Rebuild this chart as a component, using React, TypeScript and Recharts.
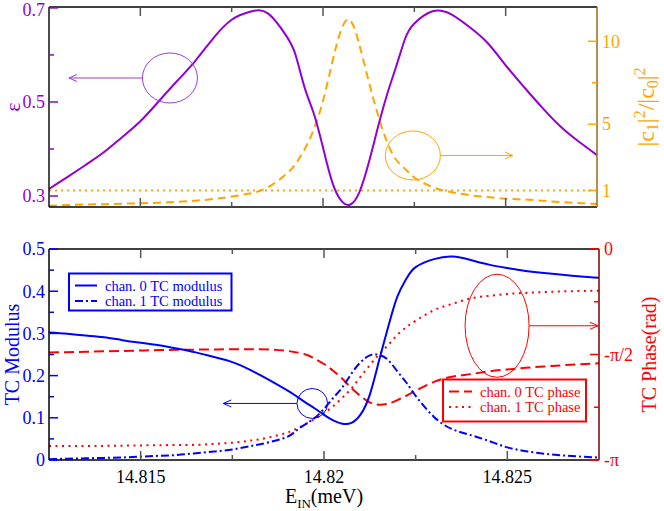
import React from 'react';
import { LineChart, Line, XAxis, YAxis, ReferenceLine, ReferenceDot, Label } from 'recharts';

// incident energy (meV), shared by both panels
const energy = [
  14.8125, 14.813, 14.8135, 14.814, 14.8145, 14.815, 14.8155, 14.816, 14.8165, 14.817,
  14.8175, 14.818, 14.8185, 14.819, 14.81925, 14.8195, 14.81975, 14.82, 14.82025, 14.8205,
  14.82075, 14.821, 14.82125, 14.8215, 14.82175, 14.822, 14.82225, 14.8225, 14.823, 14.8235,
  14.824, 14.8245, 14.825, 14.8255, 14.826, 14.8265, 14.827, 14.8275,
];

// top panel
const epsilon = [
  0.315, 0.34, 0.366, 0.393, 0.425, 0.459, 0.501, 0.544, 0.587, 0.636,
  0.675, 0.692, 0.688, 0.64, 0.6, 0.53, 0.475, 0.403, 0.33, 0.29,
  0.282, 0.309, 0.37, 0.445, 0.515, 0.575, 0.635, 0.667, 0.693, 0.687,
  0.66, 0.626, 0.578, 0.532, 0.488, 0.448, 0.416, 0.387,
];
const ratio = [
  0.08, 0.12, 0.15, 0.17, 0.2, 0.22, 0.26, 0.31, 0.38, 0.48,
  0.63, 0.82, 1.2, 2.0, 2.6, 3.5, 4.7, 6.4, 8.7, 10.7,
  11.25, 9.75, 7.6, 5.6, 3.95, 2.85, 2.3, 1.78, 1.2, 0.9,
  0.72, 0.6, 0.5, 0.45, 0.38, 0.3, 0.24, 0.18,
];
const unitRatio = 1;

// bottom panel
const ch0Modulus = [
  0.302, 0.299, 0.295, 0.291, 0.284, 0.278, 0.272, 0.264, 0.255, 0.244,
  0.232, 0.213, 0.19, 0.165, 0.151, 0.136, 0.122, 0.107, 0.094, 0.086,
  0.088, 0.108, 0.155, 0.235, 0.315, 0.387, 0.43, 0.457, 0.476, 0.482,
  0.474, 0.463, 0.455, 0.448, 0.443, 0.439, 0.435, 0.432,
];
const ch1Modulus = [
  0.002, 0.003, 0.004, 0.005, 0.006, 0.008, 0.01, 0.012, 0.016, 0.02,
  0.025, 0.033, 0.042, 0.055, 0.07, 0.085, 0.1, 0.121, 0.147, 0.172,
  0.205, 0.232, 0.248, 0.249, 0.237, 0.21, 0.183, 0.152, 0.102, 0.073,
  0.059, 0.045, 0.03, 0.021, 0.015, 0.011, 0.008, 0.006,
];
// phases in rad
const ch0Phase = [
  -1.5425, -1.5362, -1.53, -1.5237, -1.5174, -1.5111, -1.5048, -1.5017, -1.4985, -1.4954,
  -1.4923, -1.4923, -1.4954, -1.5174, -1.5394, -1.5708, -1.6336, -1.7122, -1.8127, -1.9321,
  -2.0735, -2.1897, -2.2839, -2.3185, -2.3028, -2.2494, -2.1834, -2.1111, -1.9792, -1.9007,
  -1.863, -1.8221, -1.7938, -1.7687, -1.7499, -1.731, -1.7153, -1.7027,
];
const ch1Phase = [
  -2.9343, -2.9343, -2.9343, -2.9311, -2.928, -2.9248, -2.9217, -2.9185, -2.9154, -2.9028,
  -2.884, -2.8526, -2.8054, -2.7332, -2.6766, -2.6075, -2.529, -2.4442, -2.3405, -2.2148,
  -2.0735, -1.9007, -1.7279, -1.5708, -1.4294, -1.2786, -1.1624, -1.0681, -0.9111, -0.8168,
  -0.7351, -0.6974, -0.6692, -0.6535, -0.6409, -0.6315, -0.6252, -0.622,
];

const xTicks = [14.815, 14.8175, 14.82, 14.8225, 14.825];
const xMajor = [14.815, 14.82, 14.825];
const epsTicks = [0.3, 0.4, 0.5, 0.6, 0.7];
const epsMajor = [0.3, 0.5, 0.7];
const ratioTicks = [1, 5, 7.5, 10];
const ratioMajor = [1, 5, 10];
const modTicks = [0, 0.05, 0.1, 0.15, 0.2, 0.25, 0.3, 0.35, 0.4, 0.45, 0.5];
const modMajor = [0, 0.1, 0.2, 0.3, 0.4, 0.5];
const phaseTicks = [-Math.PI, -0.75 * Math.PI, -Math.PI / 2, -0.25 * Math.PI, 0];
const phaseTickLabels = ['-π', '', '-π/2', '', '0'];

const legendModulus = ['chan. 0 TC modulus', 'chan. 1 TC modulus'];
const legendPhase = ['chan. 0 TC phase', 'chan. 1 TC phase'];

const topData = energy.map((x, i) => ({ x, eps: epsilon[i], ratio: ratio[i] }));
const bottomData = energy.map((x, i) => ({
  x,
  m0: ch0Modulus[i],
  m1: ch1Modulus[i],
  p0: ch0Phase[i],
  p1: ch1Phase[i],
}));

const FONT = '"Liberation Serif", "Times New Roman", serif';
const PURPLE = '#9400D3';
const ORANGE = '#FFA500';
const BLUE = '#0000FF';
const RED = '#FF0000';

const makeXTick = (plotH: number, withLabels: boolean) => (props: any) => {
  const { x, y, payload } = props;
  const major = xMajor.includes(payload.value);
  const len = major ? 9 : 5;
  return (
    <g>
      <line x1={x} x2={x} y1={y} y2={y - len} stroke="#555" strokeWidth={1.5} />
      <line x1={x} x2={x} y1={y - plotH} y2={y - plotH + len} stroke="#555" strokeWidth={1.5} />
      {withLabels && major && (
        <text x={x} y={y + 23} textAnchor="middle" fontSize={18} style={{ fontFamily: FONT }} fill="#000">
          {String(payload.value)}
        </text>
      )}
    </g>
  );
};

const makeYTick =
  (side: 'left' | 'right', color: string, label: (v: number, i: number) => string) => (props: any) => {
    const { x, y, payload, index } = props;
    const text = label(payload.value, index);
    const len = text ? 9 : 5;
    const dir = side === 'left' ? 1 : -1;
    return (
      <g>
        <line x1={x} x2={x + dir * len} y1={y} y2={y} stroke={color} strokeWidth={1.5} />
        {text && (
          <text
            x={side === 'left' ? x - 4 : x + 5}
            y={Math.max(y, 9.5)}
            dy="0.35em"
            textAnchor={side === 'left' ? 'end' : 'start'}
            fontSize={18}
            style={{ fontFamily: FONT }}
            fill={color}
          >
            {text}
          </text>
        )}
      </g>
    );
  };

const arrowHead = (x: number, y: number, dir: number, color: string) => (
  <polyline
    points={`${x - dir * 8},${y - 3.5} ${x},${y} ${x - dir * 8},${y + 3.5}`}
    fill="none"
    stroke={color}
    strokeWidth={1}
  />
);

const makeCallout = (rx: number, ry: number, arrowTo: number, color: string) => (props: any) => {
  const { cx, cy } = props;
  const dir = arrowTo < 0 ? -1 : 1;
  const start = cx + dir * rx;
  const end = cx + arrowTo;
  return (
    <g>
      <ellipse cx={cx} cy={cy} rx={rx} ry={ry} fill="none" stroke={color} strokeWidth={1} />
      <line x1={start} x2={end} y1={cy} y2={cy} stroke={color} strokeWidth={1} />
      {arrowHead(end, cy, dir, color)}
    </g>
  );
};

const rotatedTitle = (offsetX: number, color: string, children: React.ReactNode, size = 20) => (props: any) => {
  const vb = props.viewBox;
  const cx = vb.x + offsetX;
  const cy = vb.y + vb.height / 2;
  return (
    <text
      x={cx}
      y={cy}
      dy="0.35em"
      textAnchor="middle"
      transform={`rotate(-90 ${cx} ${cy})`}
      fontSize={size}
      style={{ fontFamily: FONT }}
      fill={color}
    >
      {children}
    </text>
  );
};

const ratioTitle = (
  <>
    <tspan>|c</tspan>
    <tspan dy={4} fontSize={16}>1</tspan>
    <tspan dy={-4}>|</tspan>
    <tspan dy={-9} fontSize={16}>2</tspan>
    <tspan dy={9}>/|c</tspan>
    <tspan dy={4} fontSize={16}>0</tspan>
    <tspan dy={-4}>|</tspan>
    <tspan dy={-9} fontSize={16}>2</tspan>
  </>
);

const energyTitle = (props: any) => {
  const vb = props.viewBox;
  return (
    <text x={vb.x + vb.width / 2} y={vb.y + 43} textAnchor="middle" fontSize={20} style={{ fontFamily: FONT }} fill="#000">
      <tspan>E</tspan>
      <tspan dy={5} fontSize={13}>IN</tspan>
      <tspan dy={-5}>(meV)</tspan>
    </text>
  );
};

const LegendBox = ({
  x, y, w, h, color, names, dashes, sampleW,
}: {
  x: number; y: number; w: number; h: number; color: string; names: string[]; dashes: (string | undefined)[]; sampleW: number;
}) => (
  <g>
    <rect x={x} y={y} width={w} height={h} fill="#fff" stroke={color} strokeWidth={2} />
    {names.map((n, i) => {
      const ly = y + 12 + i * 15.5;
      return (
        <g key={n}>
          <line x1={x + 6} x2={x + 6 + sampleW} y1={ly} y2={ly} stroke={color} strokeWidth={2} strokeDasharray={dashes[i]} />
          <text x={x + sampleW + 14} y={ly} dy="0.35em" fontSize={14.5} style={{ fontFamily: FONT }} fill={color}>
            {n}
          </text>
        </g>
      );
    })}
  </g>
);

const App: React.FC = () => {
  return (
    <div style={{ position: 'absolute', left: 0, top: 0, width: 664, height: 511, background: '#fff', fontFamily: FONT }}>
      <div style={{ position: 'absolute', left: 0, top: 0 }}>
        <LineChart width={664} height={215} data={topData} margin={{ top: 7, right: 0, bottom: 0, left: 0 }}>
          <XAxis
            dataKey="x"
            type="number"
            domain={[14.8125, 14.8275]}
            allowDataOverflow
            ticks={xTicks}
            interval={0}
            height={8}
            tickSize={0}
            tickMargin={0}
            tickLine={false}
            axisLine={{ stroke: '#000', strokeWidth: 1.5 }}
            tick={makeXTick(200, false)}
          />
          <YAxis
            yAxisId="l"
            type="number"
            domain={[0.2766, 0.702]}
            allowDataOverflow
            ticks={epsTicks}
            interval={0}
            width={49}
            tickSize={0}
            tickMargin={0}
            tickLine={false}
            axisLine={{ stroke: '#111', strokeWidth: 1.5 }}
            tick={makeYTick('left', PURPLE, (v) => (epsMajor.includes(v) ? String(v) : ''))}
          >
            <Label content={rotatedTitle(12, PURPLE, 'ε', 22)} />
          </YAxis>
          <YAxis
            yAxisId="r"
            orientation="right"
            type="number"
            domain={[0, 12.07]}
            allowDataOverflow
            ticks={ratioTicks}
            interval={0}
            width={67}
            tickSize={0}
            tickMargin={0}
            tickLine={false}
            axisLine={{ stroke: '#9A6A10', strokeWidth: 1.5 }}
            tick={makeYTick('right', ORANGE, (v) => (ratioMajor.includes(v) ? String(v) : ''))}
          >
            <Label content={rotatedTitle(49, ORANGE, ratioTitle, 24)} />
          </YAxis>
          <ReferenceLine yAxisId="l" y={0.702} stroke="#000" strokeWidth={1.5} />
          <ReferenceLine yAxisId="r" y={unitRatio} stroke={ORANGE} strokeWidth={2} strokeDasharray="2 4" />
          <Line yAxisId="r" dataKey="ratio" type="natural" stroke={ORANGE} strokeWidth={2} strokeDasharray="8 5" dot={false} isAnimationActive={false} />
          <Line yAxisId="l" dataKey="eps" type="natural" stroke={PURPLE} strokeWidth={2} dot={false} isAnimationActive={false} />
          <ReferenceDot yAxisId="l" x={14.81581} y={0.551} shape={makeCallout(27.5, 25, -101, '#9B3BD6')} />
          <ReferenceDot yAxisId="r" x={14.82246} y={3.11} shape={makeCallout(27.5, 24.5, 100, ORANGE)} />
        </LineChart>
      </div>

      <div style={{ position: 'absolute', left: 0, top: 220 }}>
        <LineChart width={664} height={291} data={bottomData} margin={{ top: 29, right: 0, bottom: 0, left: 0 }}>
          <XAxis
            dataKey="x"
            type="number"
            domain={[14.8125, 14.8275]}
            allowDataOverflow
            ticks={xTicks}
            interval={0}
            height={51}
            tickSize={0}
            tickMargin={0}
            tickLine={false}
            axisLine={{ stroke: '#000', strokeWidth: 1.5 }}
            tick={makeXTick(211, true)}
          >
            <Label content={energyTitle} />
          </XAxis>
          <YAxis
            yAxisId="l"
            type="number"
            domain={[0, 0.5]}
            allowDataOverflow
            ticks={modTicks}
            interval={0}
            width={49}
            tickSize={0}
            tickMargin={0}
            tickLine={false}
            axisLine={{ stroke: '#000', strokeWidth: 1.5 }}
            tick={makeYTick('left', BLUE, (v) => (modMajor.includes(v) ? String(v) : ''))}
          >
            <Label content={rotatedTitle(12, BLUE, 'TC Modulus', 20)} />
          </YAxis>
          <YAxis
            yAxisId="r"
            orientation="right"
            type="number"
            domain={[-Math.PI, 0]}
            allowDataOverflow
            ticks={phaseTicks}
            interval={0}
            width={65}
            tickSize={0}
            tickMargin={0}
            tickLine={false}
            axisLine={{ stroke: '#7A0000', strokeWidth: 1.5 }}
            tick={makeYTick('right', RED, (_v, i) => phaseTickLabels[i] ?? '')}
          >
            <Label content={rotatedTitle(50, RED, 'TC Phase(rad)', 20)} />
          </YAxis>
          <ReferenceLine yAxisId="l" y={0.5} stroke="#000" strokeWidth={1.5} />
          <Line yAxisId="r" dataKey="p0" type="natural" stroke={RED} strokeWidth={2} strokeDasharray="10 5" dot={false} isAnimationActive={false} />
          <Line yAxisId="r" dataKey="p1" type="natural" stroke={RED} strokeWidth={2} strokeDasharray="2 4.5" dot={false} isAnimationActive={false} />
          <Line yAxisId="l" dataKey="m0" type="natural" stroke={BLUE} strokeWidth={2} dot={false} isAnimationActive={false} />
          <Line yAxisId="l" dataKey="m1" type="natural" stroke={BLUE} strokeWidth={2} strokeDasharray="8 3 2 3" dot={false} isAnimationActive={false} />
          <ReferenceDot yAxisId="l" x={14.81968} y={0.134} shape={makeCallout(15.3, 15, -89, BLUE)} />
          <ReferenceDot yAxisId="r" x={14.82472} y={-1.143} shape={makeCallout(32, 51.5, 101, RED)} />
        </LineChart>
      </div>

      <svg width={664} height={511} style={{ position: 'absolute', left: 0, top: 0, pointerEvents: 'none' }}>
        <LegendBox x={69} y={273.5} w={162.5} h={37} color={BLUE} names={legendModulus} dashes={[undefined, '8 3 2 3']} sampleW={22} />
        <LegendBox x={443} y={379.5} w={143} h={42} color={RED} names={legendPhase} dashes={['10 5', '2 4.5']} sampleW={23} />
      </svg>
    </div>
  );
};

export default App;
